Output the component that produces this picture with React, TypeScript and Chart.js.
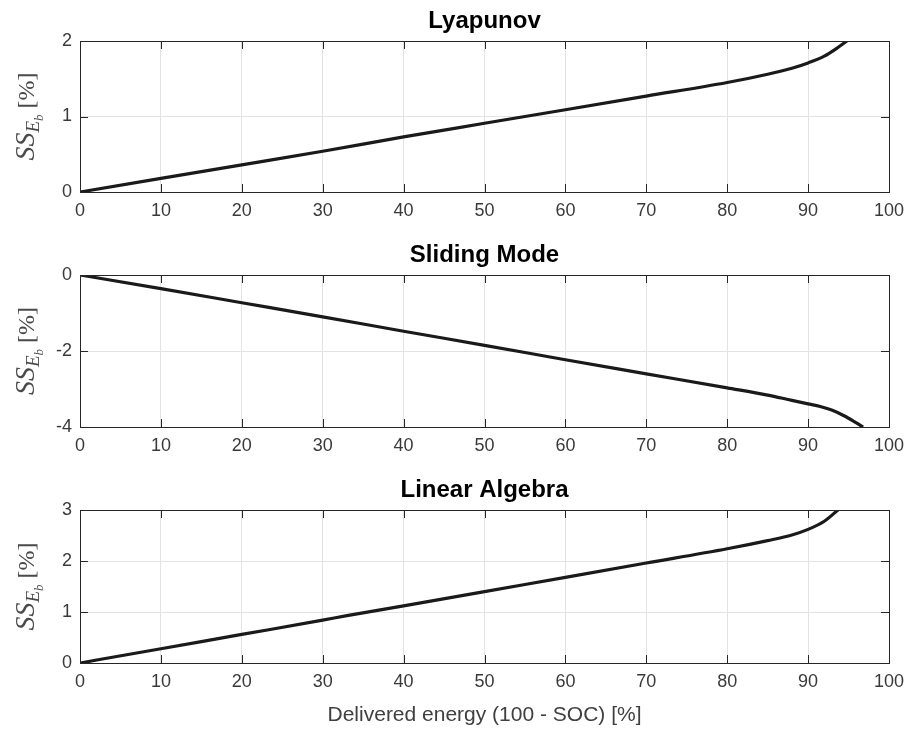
import React, { useEffect, useRef } from "react";
import { Chart, registerables } from "chart.js";

Chart.register(...registerables);

const xTicks = [0, 10, 20, 30, 40, 50, 60, 70, 80, 90, 100];

const lyapX = [0, 10, 20, 30, 40, 50, 60, 70, 80, 85, 88, 90, 92, 93.5, 94.8];
const lyapY = [0, 0.18, 0.36, 0.54, 0.73, 0.91, 1.09, 1.27, 1.45, 1.56, 1.64, 1.71, 1.8, 1.9, 2.0];

const smX = [0, 10, 20, 30, 40, 50, 60, 70, 80, 85, 88, 90, 91.5, 93, 94.5, 95.8, 96.8];
const smY = [0, -0.36, -0.73, -1.1, -1.48, -1.85, -2.23, -2.6, -2.97, -3.16, -3.3, -3.39, -3.46, -3.56, -3.71, -3.87, -4.0];

const laX = [0, 10, 20, 30, 33, 40, 50, 60, 70, 80, 85, 88, 90, 92, 93.7];
const laY = [0, 0.28, 0.56, 0.84, 0.93, 1.12, 1.4, 1.68, 1.96, 2.24, 2.4, 2.51, 2.62, 2.78, 3.0];

const titles = ["Lyapunov", "Sliding Mode", "Linear Algebra"];
const xTitle = "Delivered energy (100 - SOC) [%]";

type Panel = {
  title: string;
  xs: number[];
  ys: number[];
  yMin: number;
  yMax: number;
  yStep: number;
  top: number;
  height: number;
  plotH: number;
  showXTitle: boolean;
};

const FONT = "'Liberation Sans', Arial, Helvetica, sans-serif";
const SERIF = "'Liberation Serif', 'Times New Roman', serif";
const AXIS = "#262626";
const TICKTXT = "#3a3a3a";

function makePlugin(p: Panel) {
  return {
    id: "decor" + p.title.replace(/\s/g, ""),
    afterDraw(chart: any) {
      const { ctx, chartArea } = chart;
      const { left, right, top, bottom } = chartArea;
      const xs = chart.scales.x;
      const ys = chart.scales.y;
      ctx.save();
      ctx.strokeStyle = AXIS;
      ctx.lineWidth = 1;
      ctx.strokeRect(Math.round(left) + 0.5, Math.round(top) + 0.5, Math.round(right - left), Math.round(bottom - top));
      const tl = 8;
      ctx.beginPath();
      for (const v of xTicks) {
        const px = Math.round(xs.getPixelForValue(v)) + 0.5;
        ctx.moveTo(px, bottom);
        ctx.lineTo(px, bottom - tl);
        ctx.moveTo(px, top);
        ctx.lineTo(px, top + tl);
      }
      for (let v = p.yMin; v <= p.yMax + 1e-9; v += p.yStep) {
        const py = Math.round(ys.getPixelForValue(v)) + 0.5;
        ctx.moveTo(left, py);
        ctx.lineTo(left + tl, py);
        ctx.moveTo(right, py);
        ctx.lineTo(right - tl, py);
      }
      ctx.stroke();
      ctx.fillStyle = "#000";
      ctx.font = `bold 24px ${FONT}`;
      ctx.textAlign = "center";
      ctx.textBaseline = "middle";
      ctx.fillText(p.title, (left + right) / 2, top - 20);
      ctx.translate(26, (top + bottom) / 2);
      ctx.rotate(-Math.PI / 2);
      const segs = [
        { t: "SS", f: `italic 28px ${SERIF}`, dy: 0 },
        { t: "E", f: `italic 19px ${SERIF}`, dy: 5 },
        { t: "b", f: `italic 13px ${SERIF}`, dy: 9 },
        { t: " [%]", f: `24px ${SERIF}`, dy: 0 },
      ];
      let total = 0;
      for (const s of segs) {
        ctx.font = s.f;
        total += ctx.measureText(s.t).width;
      }
      let cx = -total / 2;
      ctx.fillStyle = "#4a4a4a";
      ctx.textAlign = "left";
      ctx.textBaseline = "alphabetic";
      for (const s of segs) {
        ctx.font = s.f;
        ctx.fillText(s.t, cx, 8 + s.dy);
        cx += ctx.measureText(s.t).width;
      }
      ctx.restore();
      if (p.showXTitle) {
        ctx.save();
        ctx.fillStyle = "#404040";
        ctx.font = `21px ${FONT}`;
        ctx.textAlign = "center";
        ctx.textBaseline = "middle";
        ctx.fillText(xTitle, (left + right) / 2, bottom + 52);
        ctx.restore();
      }
    },
  };
}

function PanelChart({ p }: { p: Panel }) {
  const ref = useRef<HTMLCanvasElement>(null);
  useEffect(() => {
    if (!ref.current) return;
    const data = p.xs.map((x, i) => ({ x, y: p.ys[i] }));
    const chart = new Chart(ref.current, {
      type: "line",
      data: {
        datasets: [
          {
            data,
            borderColor: "#1a1a1a",
            borderWidth: 3.2,
            pointRadius: 0,
            cubicInterpolationMode: "monotone",
            fill: false,
          },
        ],
      },
      options: {
        animation: false,
        responsive: false,
        maintainAspectRatio: false,
        layout: { padding: { top: 41, right: 18, left: 0, bottom: p.height - 41 - p.plotH - 36 } },
        plugins: { legend: { display: false }, title: { display: false }, tooltip: { enabled: false } },
        scales: {
          x: {
            type: "linear",
            min: 0,
            max: 100,
            afterBuildTicks: (s: any) => {
              s.ticks = xTicks.map((v) => ({ value: v }));
            },
            afterFit: (s: any) => {
              s.height = 36;
              s.paddingLeft = 0;
              s.paddingRight = 0;
            },
            ticks: { color: TICKTXT, font: { size: 18, family: FONT }, padding: 8, maxRotation: 0 },
            grid: { color: "#e3e3e3", drawTicks: false, lineWidth: 1 },
            border: { display: false },
          },
          y: {
            min: p.yMin,
            max: p.yMax,
            afterBuildTicks: (s: any) => {
              const t = [];
              for (let v = p.yMin; v <= p.yMax + 1e-9; v += p.yStep) t.push({ value: v });
              s.ticks = t;
            },
            afterFit: (s: any) => {
              s.width = 80;
              s.paddingTop = 0;
              s.paddingBottom = 0;
            },
            ticks: { color: TICKTXT, font: { size: 18, family: FONT }, padding: 8 },
            grid: { color: "#e3e3e3", drawTicks: false, lineWidth: 1 },
            border: { display: false },
          },
        },
      },
      plugins: [makePlugin(p)],
    } as any);
    return () => chart.destroy();
  }, []);
  return (
    <canvas
      ref={ref}
      width={907}
      height={p.height}
      style={{ position: "absolute", left: 0, top: p.top, width: 907, height: p.height }}
    />
  );
}

const panels: Panel[] = [
  { title: titles[0], xs: lyapX, ys: lyapY, yMin: 0, yMax: 2, yStep: 1, top: 0, height: 41 + 151 + 36, plotH: 151, showXTitle: false },
  { title: titles[1], xs: smX, ys: smY, yMin: -4, yMax: 0, yStep: 2, top: 234, height: 41 + 152 + 36, plotH: 152, showXTitle: false },
  { title: titles[2], xs: laX, ys: laY, yMin: 0, yMax: 3, yStep: 1, top: 469, height: 262, plotH: 153, showXTitle: true },
];

export default function App() {
  return (
    <div style={{ position: "fixed", left: 0, top: 0, width: 907, height: 731, background: "#fff", overflow: "hidden" }}>
      {panels.map((p) => (
        <PanelChart key={p.title} p={p} />
      ))}
    </div>
  );
}
